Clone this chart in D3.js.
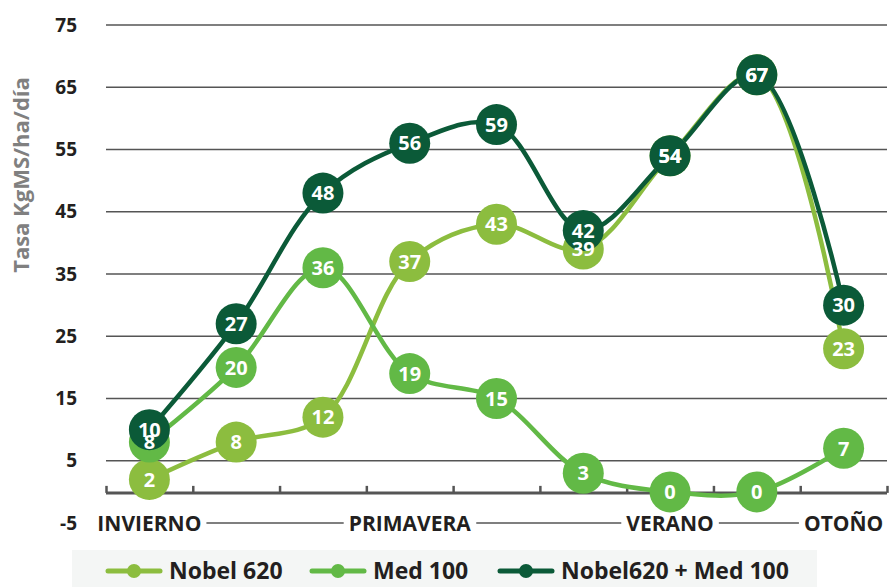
<!DOCTYPE html>
<meta charset="utf-8" />
<head>
  <style>
    body { margin: 0; background: #fff; }
    svg { font-family: "Open Sans", sans-serif; font-weight: 700; }
    .grid line { stroke: #555; stroke-width: 1.4; }
    .tick-label { fill: #231f20; font-size: 19px; }
    .season { fill: #231f20; font-size: 21px; }
    .val { fill: #fff; font-size: 20px; }
    .legend-text { fill: #231f20; font-size: 23px; }
  </style>
  <script src="https://cdn.jsdelivr.net/npm/d3@7/dist/d3.min.js"></script>
</head>
<body>
<script>
  var points = d3.range(9),
    seasons = ["INVIERNO", "PRIMAVERA", "VERANO", "OTOÑO"],
    seasonAt = [0, 3, 6, 8],
    yTicks = [-5, 5, 15, 25, 35, 45, 55, 65, 75],
    nobel = [2, 8, 12, 37, 43, 39, 54, 67, 23],
    med = [8, 20, 36, 19, 15, 3, 0, 0, 7],
    total = [10, 27, 48, 56, 59, 42, 54, 67, 30];

  var series = [
    { name: "Nobel 620", values: nobel, color: "#8cbd3f" },
    { name: "Med 100", values: med, color: "#62b946" },
    { name: "Nobel620 + Med 100", values: total, color: "#0b5a38" }
  ];

  var width = 889, height = 587;

  var x = d3.scaleBand().domain(points).range([106, 887]);
  var y = d3.scaleLinear().domain([-5, 75]).range([523, 25]);
  var cx = function(i) { return x(i) + x.bandwidth() / 2; };

  var svg = d3.select("body").append("svg")
    .attr("width", width)
    .attr("height", height);

  // gridlines
  svg.append("g").attr("class", "grid")
    .selectAll("line")
    .data(yTicks)
    .enter().append("line")
    .attr("x1", 106).attr("x2", 887)
    .attr("y1", function(d) { return y(d); })
    .attr("y2", function(d) { return y(d); });

  // y labels
  svg.append("g").selectAll("text")
    .data(yTicks)
    .enter().append("text")
    .attr("class", "tick-label")
    .attr("x", 77)
    .attr("y", function(d) { return y(d); })
    .attr("dy", "0.35em")
    .attr("text-anchor", "end")
    .text(function(d) { return d; });

  svg.append("text")
    .attr("transform", "translate(29," + 175 + ") rotate(-90)")
    .attr("text-anchor", "middle")
    .style("fill", "#808080")
    .style("font-size", "22px")
    .text("Tasa KgMS/ha/día");

  // x axis at zero with ticks pointing up
  var xAxis = d3.axisTop(d3.scaleLinear().domain([0, 9]).range([106, 887]))
    .tickValues(d3.range(10))
    .tickSize(7)
    .tickFormat("");
  var ax = svg.append("g")
    .attr("transform", "translate(0," + (y(0) + 1) + ")")
    .call(xAxis);
  ax.select(".domain").remove();
  ax.selectAll(".tick line").attr("stroke", "#555").attr("stroke-width", 2.5)
    .attr("y2", -7).attr("y1", 0);
  svg.append("line")
    .attr("x1", 106).attr("x2", 887)
    .attr("y1", y(0) + 1).attr("y2", y(0) + 1)
    .attr("stroke", "#555").attr("stroke-width", 3);

  // season labels with white background
  var sg = svg.append("g").selectAll("g")
    .data(seasons)
    .enter().append("g")
    .attr("transform", function(d, i) { return "translate(" + cx(seasonAt[i]) + "," + y(-5) + ")"; });
  sg.append("text")
    .attr("class", "season")
    .attr("text-anchor", "middle")
    .attr("dy", "0.36em")
    .text(function(d) { return d; })
    .each(function() {
      var b = this.getBBox();
      d3.select(this.parentNode).insert("rect", "text")
        .attr("x", b.x - 5).attr("y", -12)
        .attr("width", b.width + 10).attr("height", 24)
        .attr("fill", "#fff");
    });

  // lines
  var line = d3.line()
    .x(function(d, i) { return cx(i); })
    .y(function(d) { return y(d); })
    .curve(d3.curveCatmullRom.alpha(0.5));

  svg.append("g").selectAll("path")
    .data(series)
    .enter().append("path")
    .attr("d", function(s) { return line(s.values); })
    .attr("fill", "none")
    .attr("stroke", function(s) { return s.color; })
    .attr("stroke-width", 4.5);

  // circles
  series.forEach(function(s) {
    svg.append("g").selectAll("circle")
      .data(s.values)
      .enter().append("circle")
      .attr("cx", function(d, i) { return cx(i); })
      .attr("cy", function(d) { return y(d); })
      .attr("r", 20.5)
      .attr("fill", s.color);
  });

  // value labels on top
  series.forEach(function(s) {
    svg.append("g").selectAll("text")
      .data(s.values)
      .enter().append("text")
      .attr("class", "val")
      .attr("x", function(d, i) { return cx(i); })
      .attr("y", function(d) { return y(d); })
      .attr("dy", "0.36em")
      .attr("text-anchor", "middle")
      .text(function(d) { return d; });
  });

  // legend
  svg.append("rect")
    .attr("x", 72).attr("y", 550)
    .attr("width", 745).attr("height", 37)
    .attr("fill", "#f4f6f5");
  var legX = [108, 312, 500];
  var lg = svg.append("g").selectAll("g")
    .data(series)
    .enter().append("g")
    .attr("transform", function(d, i) { return "translate(" + legX[i] + ",571)"; });
  lg.append("line")
    .attr("x1", 0).attr("x2", 52)
    .attr("stroke", function(d) { return d.color; })
    .attr("stroke-width", 5)
    .attr("stroke-linecap", "round");
  lg.append("circle")
    .attr("cx", 26).attr("r", 7)
    .attr("fill", function(d) { return d.color; });
  lg.append("text")
    .attr("class", "legend-text")
    .attr("x", 61)
    .attr("dy", "0.36em")
    .text(function(d) { return d.name; });
</script>
</body>
